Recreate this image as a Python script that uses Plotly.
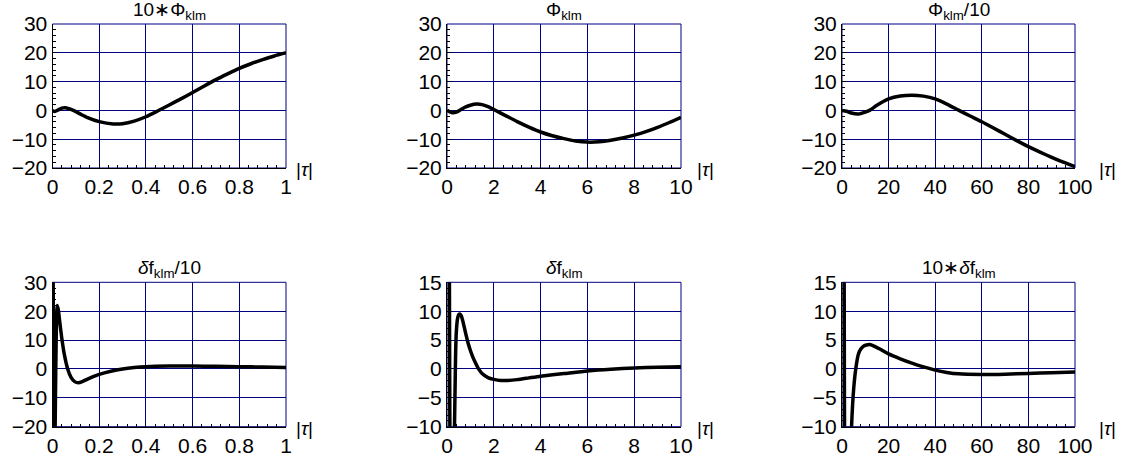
import plotly.graph_objects as go
from plotly.subplots import make_subplots

# ---------------- data ----------------
tau1 = [0, 0.01, 0.025, 0.04, 0.054, 0.07, 0.089, 0.12, 0.15, 0.2, 0.26, 0.3, 0.35,
        0.4, 0.45, 0.5, 0.55, 0.6, 0.65, 0.7, 0.75, 0.8, 0.85, 0.9, 0.95, 1.0]
phi_x10 = [0, -0.4, 0.2, 0.8, 0.95, 0.6, 0, -1.3, -2.5, -3.9, -4.7, -4.6, -3.7,
           -2.2, -0.2, 1.9, 4.0, 6.2, 8.5, 10.7, 12.7, 14.6, 16.2, 17.6, 18.9, 20.0]

tau2 = [0, 0.1, 0.25, 0.4, 0.6, 0.8, 1.0, 1.27, 1.5, 1.75, 2.0, 2.5, 3, 3.5, 4, 4.5,
        5, 5.5, 6, 6.5, 7, 7.5, 8, 8.5, 9, 9.5, 10]
phi = [0, -0.4, -0.8, -0.6, 0.3, 1.2, 1.8, 2.2, 2.0, 1.3, 0.3, -1.8, -3.9, -5.8, -7.5,
       -8.8, -9.8, -10.6, -11.0, -10.9, -10.4, -9.6, -8.6, -7.4, -5.9, -4.2, -2.4]

tau3 = [0, 2, 4, 7, 10, 12, 15, 20, 25, 30, 35, 40, 45, 50, 55, 60, 65, 70, 75, 80,
        85, 90, 95, 100]
phi_d10 = [0, -0.3, -0.9, -1.27, -0.6, 0.1, 1.8, 4.0, 5.0, 5.3, 4.95, 4.0, 2.2, 0.1,
           -1.95, -3.95, -6.1, -8.3, -10.5, -12.6, -14.5, -16.3, -18.0, -19.5]

tau4 = [0, 0.004, 0.008, 0.012, 0.016, 0.02, 0.025, 0.03, 0.035, 0.04, 0.05, 0.065,
        0.08, 0.095, 0.11, 0.13, 0.15, 0.2, 0.25, 0.3, 0.35, 0.4, 0.5, 0.6, 0.7, 0.8,
        0.9, 1.0]
df_d10 = [80, 10, -40, -15, 12, 22, 20.5, 17, 13.7, 10.5, 5.3, 0, -3.0, -4.4, -4.8,
          -4.3, -3.5, -1.9, -0.8, 0, 0.5, 0.8, 1.0, 1.0, 0.9, 0.8, 0.65, 0.5]

tau5 = [0, 0.05, 0.1, 0.15, 0.2, 0.26, 0.32, 0.35, 0.37, 0.4, 0.45, 0.5, 0.56, 0.62,
        0.7, 0.8, 0.9, 1.0, 1.1, 1.2, 1.35, 1.5, 1.75, 2.0, 2.3, 2.6, 3.0, 3.5, 4, 5,
        6, 7, 8, 9, 10]
df = [250, 120, 20, -35, -45, -25, -10, -2, 3, 6.5, 8.7, 9.4, 9.5, 9.1, 7.9, 6.1, 4.5,
      3.2, 2.1, 1.2, 0, -0.8, -1.5, -1.8, -2.0, -2.0, -1.85, -1.55, -1.25, -0.8, -0.35,
      -0.05, 0.15, 0.3, 0.4]

tau6 = [0, 0.8, 1.6, 2.5, 3.3, 4.1, 5.0, 5.9, 7, 8, 9.5, 11, 12.3, 14, 16, 20, 25, 30,
        35, 40, 45, 50, 60, 70, 80, 90, 100]
df_x10 = [300, 40, -60, -40, -22, -10, -3.5, 0, 2.5, 3.4, 4.0, 4.2, 4.2, 3.9, 3.5, 2.6,
          1.75, 1.0, 0.35, -0.2, -0.6, -0.85, -0.95, -0.9, -0.8, -0.65, -0.55]

titles = ["10∗Φ<sub>klm</sub>", "Φ<sub>klm</sub>", "Φ<sub>klm</sub>/10",
          "<i>δ</i>f<sub>klm</sub>/10", "<i>δ</i>f<sub>klm</sub>", "10∗<i>δ</i>f<sub>klm</sub>"]
xs = [tau1, tau2, tau3, tau4, tau5, tau6]
ys = [phi_x10, phi, phi_d10, df_d10, df, df_x10]
x_ranges = [[0, 1], [0, 10], [0, 100]] * 2
x_dticks = [0.2, 2, 20] * 2
y_ranges = [[-20, 30]] * 4 + [[-10, 15]] * 2
y_dticks = [10] * 4 + [5] * 2
x_label = "|<i>τ</i>|"

# ---------------- layout ----------------
W, H = 1125, 461
col_px = [(52.5, 286.0), (447.0, 681.0), (842.0, 1075.0)]
row_px = [(24.0, 168.0), (282.3, 426.7)]
label_shift = [8, 14, 22]

NAVY = "#000080"
FONT = "Liberation Sans"

fig = make_subplots(rows=2, cols=3)

for i in range(6):
    r, c = divmod(i, 3)
    fig.add_trace(go.Scatter(x=xs[i], y=ys[i], mode="lines",
                             line=dict(color="black", width=3.5, shape="spline", smoothing=0.6),
                             showlegend=False, hoverinfo="skip"),
                  row=r + 1, col=c + 1)

for i in range(6):
    r, c = divmod(i, 3)
    sfx = "" if i == 0 else str(i + 1)
    x0, x1 = col_px[c]
    yt, yb = row_px[r]
    fig.layout["xaxis" + sfx].update(
        domain=[x0 / W, x1 / W], range=x_ranges[i], dtick=x_dticks[i], tick0=0,
        automargin=False,
        showgrid=True, gridcolor=NAVY, gridwidth=1, zeroline=False,
        showline=True, linecolor="black", linewidth=1,
        ticks="inside", ticklen=4, tickcolor="black",
        minor=dict(ticks="inside", ticklen=3, tickcolor="black", dtick=x_dticks[i] / 5,
                   showgrid=False),
        tickfont=dict(family=FONT, size=21, color="black"), fixedrange=True)
    fig.layout["yaxis" + sfx].update(
        domain=[1 - yb / H, 1 - yt / H], range=y_ranges[i], dtick=y_dticks[i], tick0=0,
        automargin=False,
        showgrid=True, gridcolor=NAVY, gridwidth=1, zeroline=False,
        showline=True, linecolor="black", linewidth=1,
        ticks="inside", ticklen=4, tickcolor="black",
        minor=dict(ticks="inside", ticklen=3, tickcolor="black", dtick=y_dticks[i] / 5,
                   showgrid=False),
        tickfont=dict(family=FONT, size=21, color="black"), fixedrange=True)

    xr = "x" + sfx
    yr = "y" + sfx
    fig.add_shape(type="rect", xref=xr + " domain", yref=yr + " domain",
                  x0=0, x1=1, y0=0, y1=1, line=dict(color=NAVY, width=1), layer="below")
    fig.add_annotation(text=titles[i], xref=xr + " domain", yref=yr + " domain",
                       x=0.5, y=1, xanchor="center", yanchor="middle", yshift=13,
                       showarrow=False, font=dict(family=FONT, size=19, color="black"))
    fig.add_annotation(text=x_label, xref=xr + " domain", yref=yr + " domain",
                       x=1, y=0, xanchor="left", yanchor="middle", xshift=label_shift[c],
                       yshift=-2, showarrow=False,
                       font=dict(family=FONT, size=19, color="black"))

fig.update_layout(width=W, height=H, margin=dict(l=0, r=0, t=0, b=0, autoexpand=False),
                  paper_bgcolor="white", plot_bgcolor="white",
                  font=dict(family=FONT, color="black"))

fig.write_html("out.html", config={"displayModeBar": False},
               post_script="document.body.style.margin='0';"
                           "document.body.style.overflow='hidden';")
